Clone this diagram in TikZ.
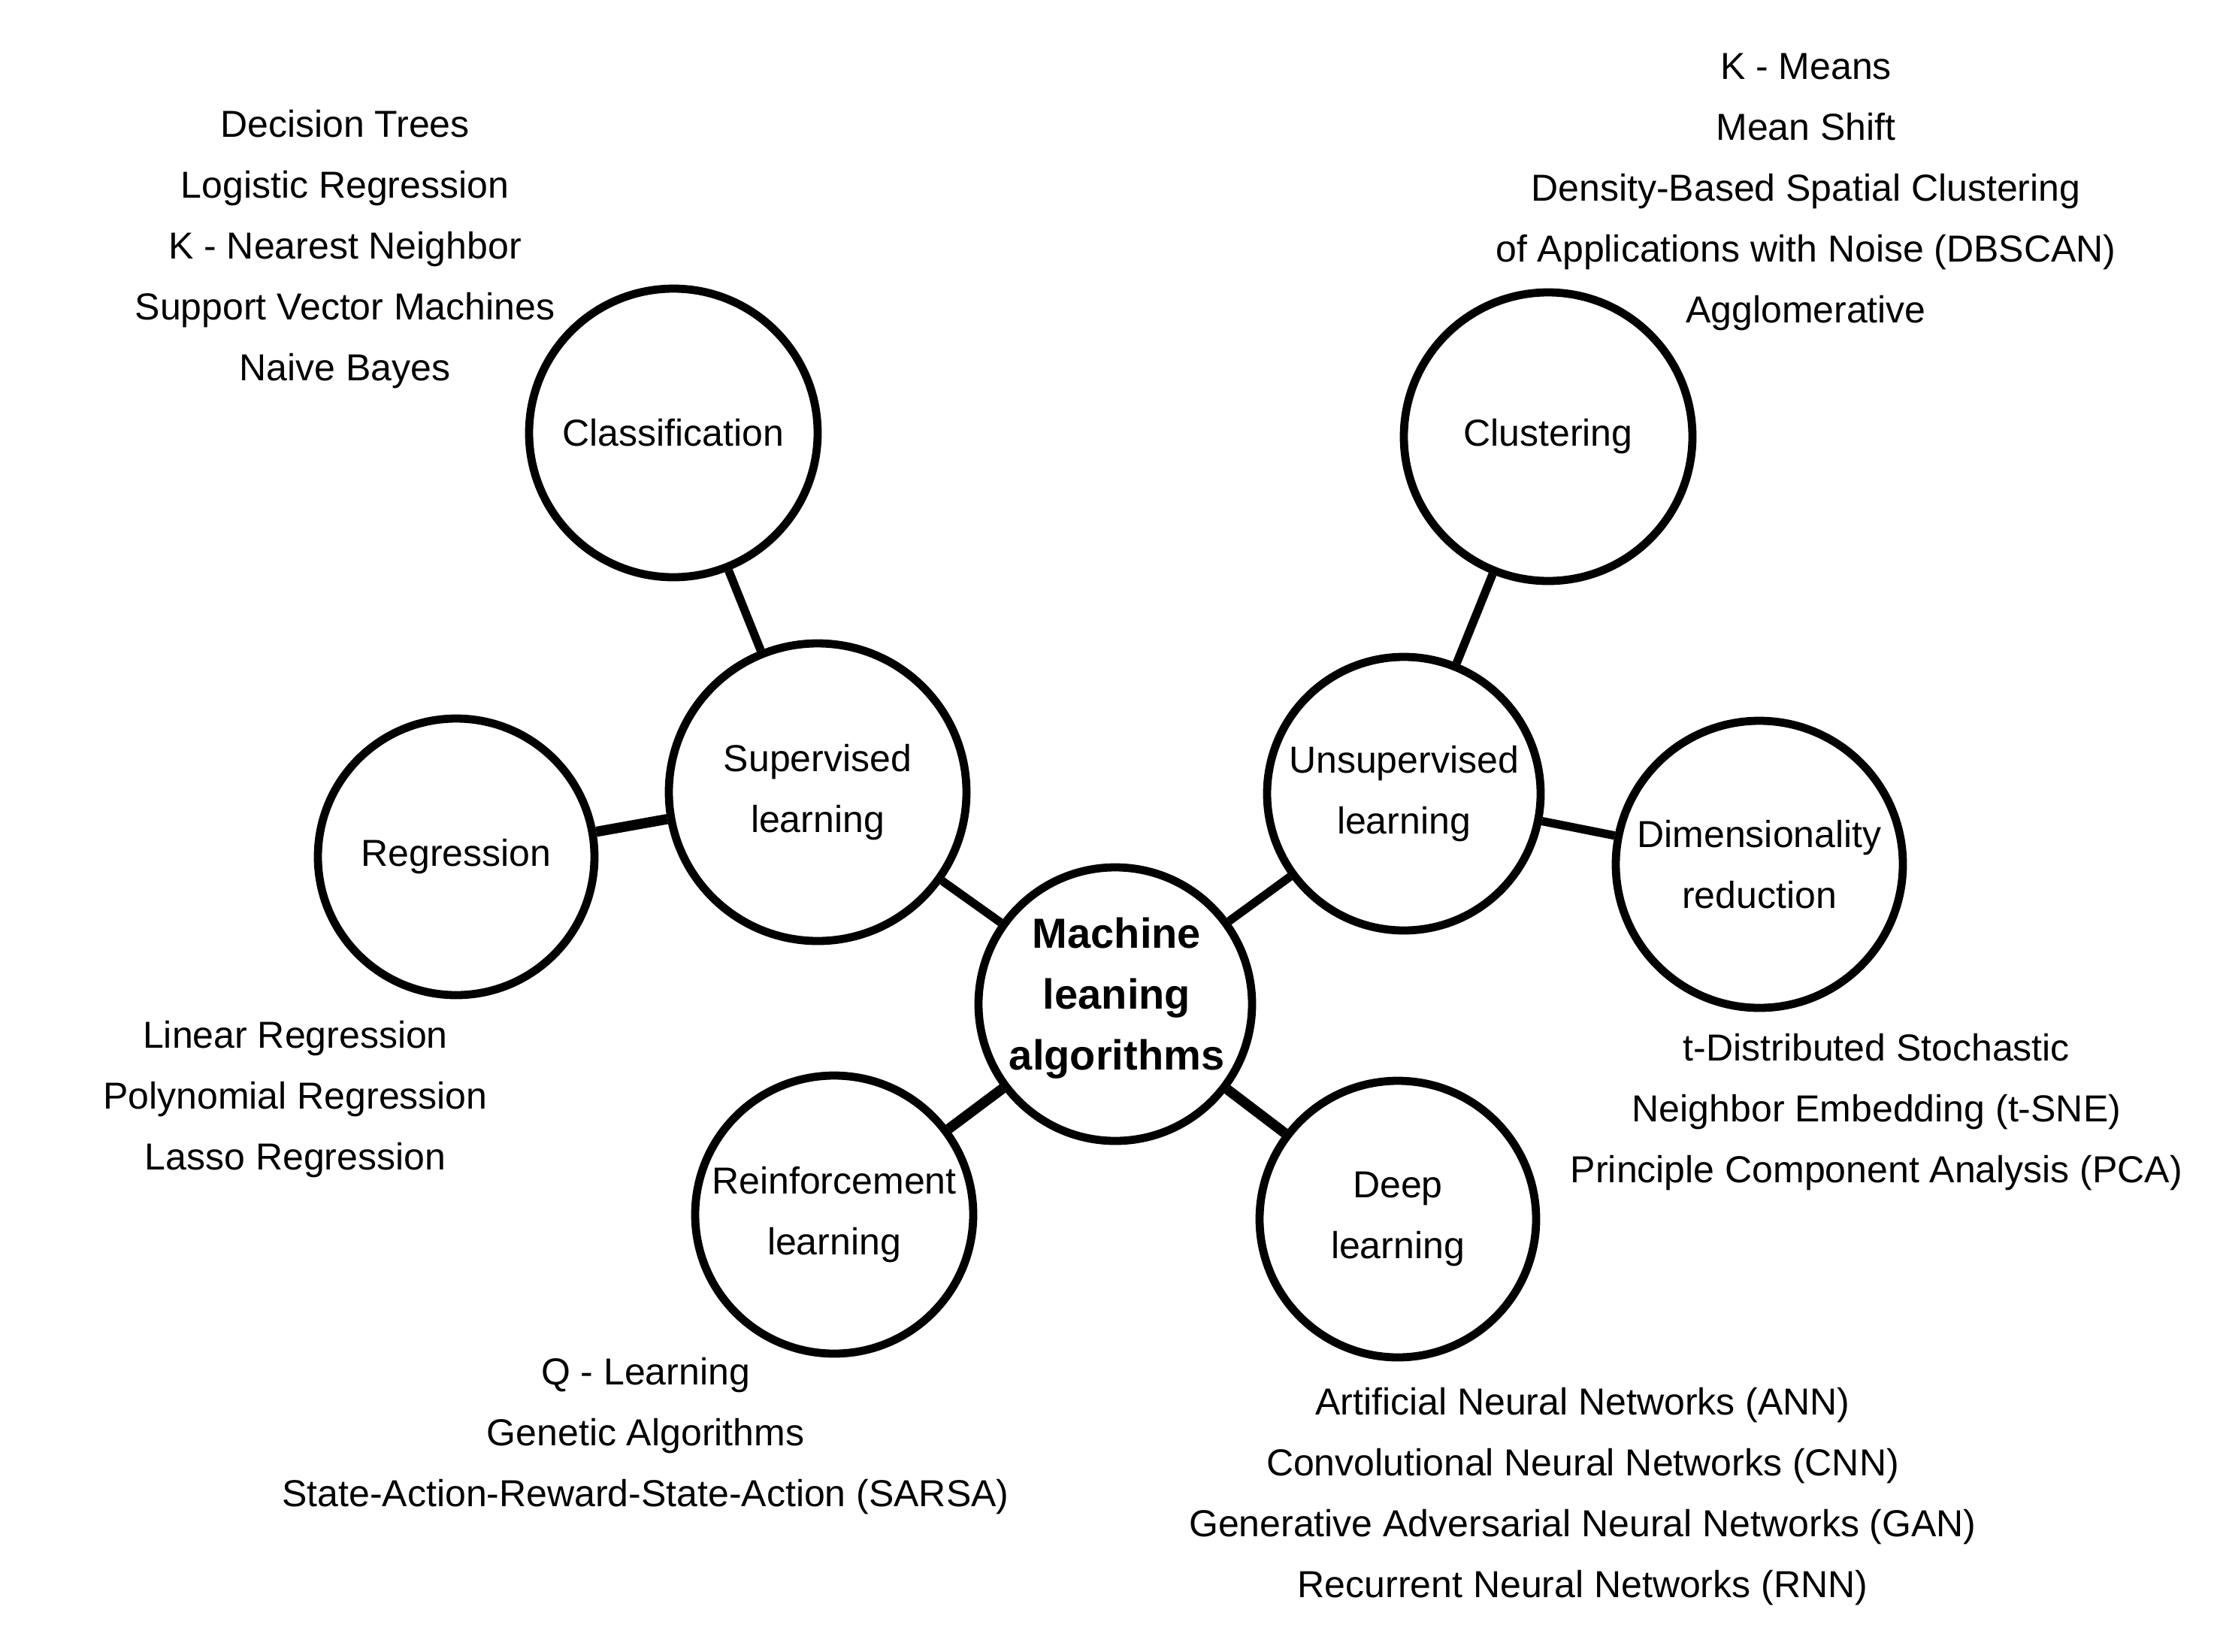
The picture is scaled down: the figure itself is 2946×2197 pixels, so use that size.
\documentclass[tikz,border=0pt]{standalone}
\usepackage{fontspec}
\setmainfont{Liberation Sans}
\begin{document}
\begin{tikzpicture}[x=0.25pt,y=-0.25pt,
  bubble/.style={circle,draw=black,line width=2.7pt,minimum size=93pt,inner sep=0pt,align=center,font=\fontsize{12.5}{20.25}\selectfont,fill=white},
  items/.style={align=center,font=\fontsize{12.5}{20.25}\selectfont,inner sep=0pt},
  hubtext/.style={align=center,font=\bfseries\fontsize{14}{20.25}\selectfont,inner sep=0pt},
  link/.style={line width=2.8pt,black},
  thicklink/.style={line width=3.4pt,black}]
\useasboundingbox[fill=white] (0,0) rectangle (2946,2197);

% circles
\node[bubble,minimum size=91pt] (ml) at (1484,1336) {};
\node[hubtext] (mlt) at (1486,1328) {Machine\\leaning\\algorithms};
\node[bubble,minimum size=99pt] (sup) at (1088,1054) {Supervised\\learning};
\node[bubble,minimum size=91pt] (uns) at (1868,1056) {Unsupervised\\learning};
\node[bubble,minimum size=96pt] (cls) at (896,576) {Classification};
\node[bubble,minimum size=92pt] (reg) at (607,1140) {Regression};
\node[bubble,minimum size=96pt] (clu) at (2060,581) {Clustering};
\node[bubble,minimum size=95.5pt] (dim) at (2341,1150) {Dimensionality\\reduction};
\node[bubble,minimum size=92.5pt] (rei) at (1110,1616) {Reinforcement\\learning};
\node[bubble,minimum size=92pt] (dee) at (1860,1622) {Deep\\learning};

% connectors
\draw[link] (cls) -- (sup);
\draw[thicklink] (reg) -- (sup);
\draw[link] (sup) -- (ml);
\draw[link] (clu) -- (uns);
\draw[link] (uns) -- (dim);
\draw[link] (ml) -- (uns);
\draw[thicklink] (ml) -- (rei);
\draw[thicklink] (ml) -- (dee);

% lists
\node[items] (clsl) at (459,332) {Decision Trees\\Logistic Regression\\K - Nearest Neighbor\\Support Vector Machines\\Naive Bayes};
\node[items] (clul) at (2403,255) {K - Means\\Mean Shift\\Density-Based Spatial Clustering\\of Applications with Noise (DBSCAN)\\Agglomerative};
\node[items] (regl) at (393,1463) {Linear Regression\\Polynomial Regression\\Lasso Regression};
\node[items] (dimll) at (2497,1480) {t-Distributed Stochastic\\Neighbor Embedding (t-SNE)\\Principle Component Analysis (PCA)};
\node[items] (reil) at (859,1911) {Q - Learning\\Genetic Algorithms\\State-Action-Reward-State-Action (SARSA)};
\node[items] (deel) at (2106,1991) {Artificial Neural Networks (ANN)\\Convolutional Neural Networks (CNN)\\Generative Adversarial Neural Networks (GAN)\\Recurrent Neural Networks (RNN)};
\end{tikzpicture}
\end{document}
